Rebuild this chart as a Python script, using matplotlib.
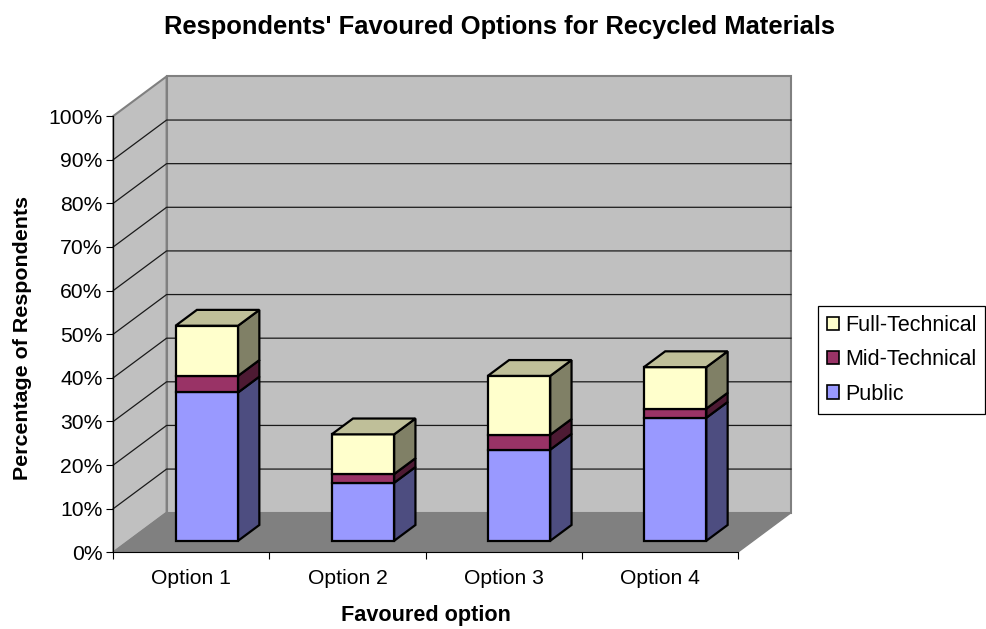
import matplotlib
matplotlib.use("Agg")
import matplotlib.pyplot as plt
from matplotlib.patches import Patch, Polygon

plt.rcParams['font.family'] = ['Liberation Sans', 'DejaVu Sans']

categories = ["Option 1", "Option 2", "Option 3", "Option 4"]
public = [34.0, 13.3, 20.9, 28.2]
mid_technical = [3.8, 2.0, 3.4, 2.1]
full_technical = [11.5, 9.1, 13.5, 9.5]
y_ticks = [0, 10, 20, 30, 40, 50, 60, 70, 80, 90, 100]

W, H = 987, 629
# depth of the fake 3d box, in data units
DX = 53.3 / 156.1
DY = 39.6 / 4.363
BAR_W = 0.40
F0, F1 = 0.29, 0.69

series = [
    ("Public", public, "#9999FF", "#4D4D80"),
    ("Mid-Technical", mid_technical, "#993366", "#4D1A33"),
    ("Full-Technical", full_technical, "#FFFFCC", "#808066"),
]
TOP_COLOR = "#BFBF99"


def poly(ax, pts, color, edge="black", lw=1.6, z=2):
    ax.add_patch(Polygon(pts, closed=True, facecolor=color, edgecolor=edge,
                         linewidth=lw, joinstyle="miter", clip_on=False, zorder=z))


def draw_box(ax, x, lo, hi, color, side, z):
    x0 = x - BAR_W / 2
    x1 = x + BAR_W / 2
    fx0, fy0 = F0 * DX, F0 * DY
    bx, by = F1 * DX, F1 * DY
    poly(ax, [(x1 + fx0, lo + fy0), (x1 + bx, lo + by), (x1 + bx, hi + by), (x1 + fx0, hi + fy0)], side, z=z)
    poly(ax, [(x0 + fx0, lo + fy0), (x1 + fx0, lo + fy0), (x1 + fx0, hi + fy0), (x0 + fx0, hi + fy0)], color, z=z)


fig = plt.figure(figsize=(W / 100, H / 100), dpi=100)
ax = fig.add_axes([113.3 / W, 1 - 552.3 / H, (737.7 - 113.3) / W, (552.3 - 116) / H])
ax.set_xlim(0, 4)
ax.set_ylim(0, 100)
ax.patch.set_visible(False)

# walls and floor
poly(ax, [(DX, DY), (4 + DX, DY), (4 + DX, 100 + DY), (DX, 100 + DY)], "#C0C0C0", edge="#808080", lw=1.5, z=0)
poly(ax, [(0, 0), (DX, DY), (DX, 100 + DY), (0, 100)], "#C0C0C0", edge="#808080", lw=1.5, z=0)
poly(ax, [(0, 0), (4, 0), (4 + DX, DY), (DX, DY)], "#808080", edge="#808080", lw=1, z=0)

for v in y_ticks[1:-1]:
    ax.plot([0, DX, 4 + DX], [v, v + DY, v + DY], color="#1a1a1a", lw=0.9, clip_on=False, zorder=1)

# bars, left to right, bottom to top
for i in range(len(categories)):
    base = 0
    for name, vals, color, side in series:
        draw_box(ax, i + 0.5, base, base + vals[i], color, side, 3)
        base += vals[i]
    x0 = i + 0.5 - BAR_W / 2
    x1 = i + 0.5 + BAR_W / 2
    poly(ax, [(x0 + F0 * DX, base + F0 * DY), (x1 + F0 * DX, base + F0 * DY),
              (x1 + F1 * DX, base + F1 * DY), (x0 + F1 * DX, base + F1 * DY)], TOP_COLOR, z=3)

ax.spines["top"].set_visible(False)
ax.spines["right"].set_visible(False)
ax.spines["left"].set_zorder(5)
ax.spines["bottom"].set_zorder(5)

ax.set_yticks(y_ticks)
ax.set_yticklabels([f"{v}%" for v in y_ticks], fontsize=15.2)
ax.set_xticks(range(5))
ax.set_xticklabels([])
ax.set_xticks([i + 0.5 for i in range(4)], minor=True)
ax.set_xticklabels(categories, minor=True, fontsize=15.2)
ax.tick_params(axis="x", which="major", length=5, width=0.8)
ax.tick_params(axis="y", which="major", length=4.8, width=0.8, pad=3)
ax.tick_params(axis="x", which="minor", length=0, pad=12)

fig.text(499.5 / W, 1 - 27 / H, "Respondents' Favoured Options for Recycled Materials",
         ha="center", va="center", fontsize=18.4, fontweight="bold")
fig.text(425.5 / W, 1 - 615 / H, "Favoured option", ha="center", va="center", fontsize=15.6, fontweight="bold")
fig.text(23 / W, 1 - 338 / H, "Percentage of Respondents", ha="center", va="center",
         rotation=90, fontsize=15.4, fontweight="bold")

handles = [Patch(facecolor=c, edgecolor="black", linewidth=1.2, label=n) for n, _, c, _ in reversed(series)]
leg = fig.legend(handles=handles, loc="upper left", bbox_to_anchor=(817.7 / W, 1 - 306 / H),
                 bbox_transform=fig.transFigure, fontsize=15.5, fancybox=False, framealpha=1,
                 edgecolor="black", borderaxespad=0, borderpad=0.42, handlelength=0.58, handleheight=0.58,
                 handletextpad=0.26, labelspacing=0.62)
leg.get_frame().set_linewidth(0.9)

fig.savefig("out.png", dpi=100)
